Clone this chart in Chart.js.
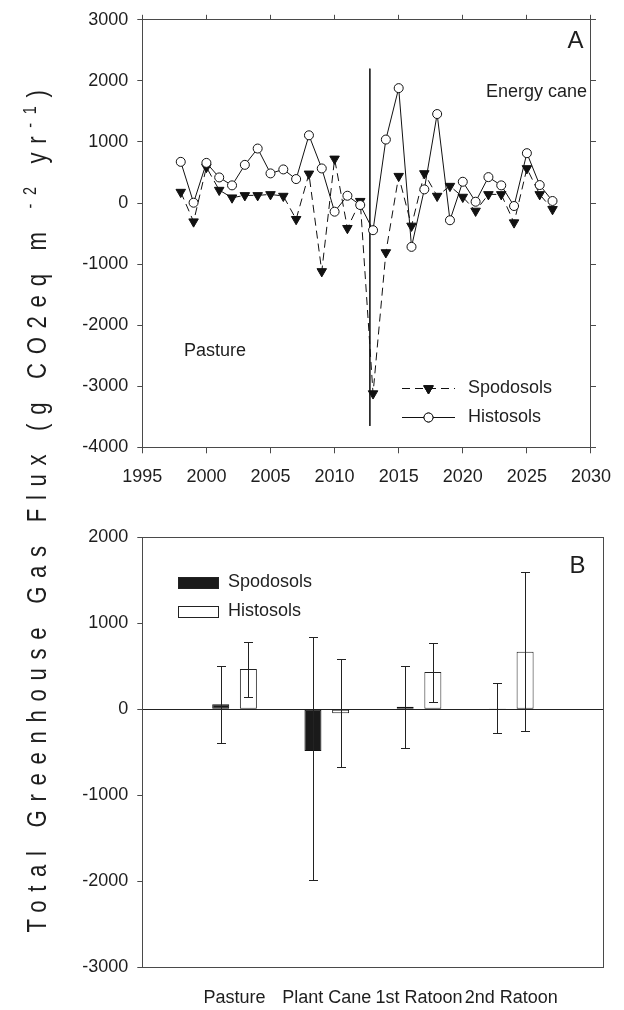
<!DOCTYPE html>
<html><head><meta charset="utf-8">
<script src="https://cdn.jsdelivr.net/npm/chart.js@4/dist/chart.umd.min.js"></script>
<style>
html,body{margin:0;padding:0;background:#fff;width:624px;height:1010px;overflow:hidden}
#wrap{position:relative;width:624px;height:1010px;background:#fff;overflow:hidden}
canvas{position:absolute;left:0}
#cA{top:0}
#cB{top:500px}
#ytitle{position:absolute;left:-563px;top:490px;width:1200px;height:34px;line-height:34px;text-align:center;white-space:nowrap;
  transform:rotate(-90deg) scale(0.82,1);font-family:"Liberation Sans",Arial,sans-serif;
  font-size:27px;letter-spacing:10.6px;color:#1e1e1e}
#ytitle sup{font-size:0.65em;line-height:0;vertical-align:super}
</style></head>
<body><div id="wrap">
<canvas id="cA" width="624" height="500"></canvas>
<canvas id="cB" width="624" height="510"></canvas>
<div id="ytitle">Total Greenhouse Gas Flux (g CO2eq m <sup>-2</sup> yr<sup>-1</sup>)</div>
</div>
<script>
const FONT = '"Liberation Sans",Arial,sans-serif';

// ---- Panel A data ----
const years = [1998,1999,2000,2001,2002,2003,2004,2005,2006,2007,2008,2009,2010,2011,2012,
               2013,2014,2015,2016,2017,2018,2019,2020,2021,2022,2023,2024,2025,2026,2027];
const spodosolsFlux = [179,-305,587,212,87,125,125,141,114,-266,478,-1120,723,-413,30,
                       -3120,-810,440,-375,484,114,277,98,-130,141,141,-321,566,141,-103];
const histosolsFlux = [674,5,657,419,289,625,892,485,550,392,1109,566,-142,119,-33,
                       -445,1039,1881,-718,223,1457,-282,348,21,424,289,-49,816,294,33];
const yearTicks = [1995,2000,2005,2010,2015,2020,2025,2030];
const fluxTicksA = [3000,2000,1000,0,-1000,-2000,-3000,-4000];
const transitionYear = 2012.75;
const transitionSpan = [2200,-3650];

// ---- Panel B data ----
const stages = ['Pasture','Plant Cane','1st Ratoon','2nd Ratoon'];
const spodosolsMean = [58,-485,30,8];
const spodosolsLow  = [-395,-1985,-453,-279];
const spodosolsHigh = [503,837,507,302];
const histosolsMean = [469,-47,434,670];
const histosolsLow  = [147,-674,85,-256];
const histosolsHigh = [786,585,775,1597];
const fluxTicksB = [2000,1000,0,-1000,-2000,-3000];

const AXIS = '#4a4a4a', INK = '#1e1e1e';
Chart.defaults.font.family = FONT;
Chart.defaults.font.size = 18;
Chart.defaults.color = INK;

function setTicks(list){ return s => { s.ticks = list.map(v => ({value:v})); }; }

const annotA = {
  id:'annotA',
  afterDraw(chart){
    const ctx = chart.ctx;
    ctx.save();
    ctx.fillStyle = INK; ctx.textBaseline = 'middle';
    ctx.font = '24px ' + FONT;
    ctx.textAlign = 'center';
    ctx.fillText('A', 575.5, 41);
    ctx.textAlign = 'left';
    ctx.font = '18px ' + FONT;
    ctx.fillText('Energy cane', 486, 92);
    ctx.fillText('Pasture', 184, 351);
    ctx.fillText('Spodosols', 468, 388);
    ctx.fillText('Histosols', 468, 417);
    // legend symbols
    ctx.strokeStyle = '#111'; ctx.lineWidth = 1;
    ctx.setLineDash([8,5]);
    ctx.beginPath(); ctx.moveTo(402,388.5); ctx.lineTo(455,388.5); ctx.stroke();
    ctx.setLineDash([]);
    ctx.beginPath(); ctx.moveTo(402,417.5); ctx.lineTo(455,417.5); ctx.stroke();
    ctx.fillStyle = '#111';
    Chart.helpers.drawPoint(ctx,{pointStyle:'triangle',rotation:180,radius:5.5,borderWidth:1},428.5,388.5);
    ctx.fill(); ctx.stroke();
    ctx.fillStyle = '#fff';
    Chart.helpers.drawPoint(ctx,{pointStyle:'circle',rotation:0,radius:4.5,borderWidth:1},428.5,417.5);
    ctx.fill(); ctx.stroke();
    ctx.restore();
  }
};

new Chart(document.getElementById('cA'), {
  type:'line',
  data:{datasets:[
    {label:'Histosols', data:years.map((y,i)=>({x:y,y:histosolsFlux[i]})),
     borderColor:'#111', borderWidth:1, tension:0, fill:false,
     pointStyle:'circle', pointRadius:4.5, pointBackgroundColor:'#fff', pointBorderColor:'#111', pointBorderWidth:1, order:0},
    {label:'Spodosols', data:years.map((y,i)=>({x:y,y:spodosolsFlux[i]})),
     borderColor:'#111', borderWidth:1, borderDash:[8,5], tension:0, fill:false,
     pointStyle:'triangle', pointRotation:180, pointRadius:5.5, pointBackgroundColor:'#111', pointBorderColor:'#111', pointBorderWidth:1, order:1},
    {label:'transition', data:[{x:transitionYear,y:transitionSpan[0]},{x:transitionYear,y:transitionSpan[1]}],
     borderColor:'#222', borderWidth:1, pointRadius:0, fill:false, order:2}
  ]},
  options:{
    responsive:false, animation:false, devicePixelRatio:1,
    layout:{padding:0},
    plugins:{legend:{display:false}, tooltip:{enabled:false}},
    scales:{
      x:{type:'linear', position:'bottom', min:1995, max:2030, afterBuildTicks:setTicks(yearTicks),
         ticks:{callback:v=>String(v), padding:13, maxRotation:0, autoSkip:false},
         grid:{drawOnChartArea:false, tickLength:6, color:AXIS}, border:{color:AXIS, width:1},
         afterFit:s=>{s.height=52.7;}},
      xTop:{type:'linear', position:'top', min:1995, max:2030, afterBuildTicks:setTicks(yearTicks),
         ticks:{display:false}, grid:{drawOnChartArea:false, tickLength:5, color:AXIS}, border:{color:AXIS, width:1},
         afterFit:s=>{s.height=18.3;}},
      y:{type:'linear', position:'left', min:-4000, max:3000, afterBuildTicks:setTicks(fluxTicksA),
         ticks:{callback:v=>String(v), padding:9},
         grid:{drawOnChartArea:false, tickLength:5, color:AXIS}, border:{color:AXIS, width:1},
         afterFit:s=>{s.width=142.3;}},
      yRight:{type:'linear', position:'right', min:-4000, max:3000, afterBuildTicks:setTicks(fluxTicksA),
         ticks:{display:false}, grid:{drawOnChartArea:false, tickLength:5, color:AXIS}, border:{color:AXIS, width:1},
         afterFit:s=>{s.width=20.5;}}
    }
  },
  plugins:[annotA]
});

const errorBars = {
  id:'errorBars',
  afterDatasetsDraw(chart){
    const ctx = chart.ctx, ys = chart.scales.y;
    const sets = [[spodosolsLow,spodosolsHigh],[histosolsLow,histosolsHigh]];
    ctx.save(); ctx.strokeStyle = '#222'; ctx.lineWidth = 1;
    sets.forEach((pair,di)=>{
      const meta = chart.getDatasetMeta(di);
      pair[0].forEach((lo,i)=>{
        const el = meta.data[i+1];
        const x = Math.round(el.x)+0.5;
        const yl = Math.round(ys.getPixelForValue(lo))+0.5, yh = Math.round(ys.getPixelForValue(pair[1][i]))+0.5;
        ctx.beginPath();
        ctx.moveTo(x,yl); ctx.lineTo(x,yh);
        ctx.moveTo(x-4.5,yl); ctx.lineTo(x+4.5,yl);
        ctx.moveTo(x-4.5,yh); ctx.lineTo(x+4.5,yh);
        ctx.stroke();
      });
    });
    ctx.restore();
  }
};

const annotB = {
  id:'annotB',
  afterDraw(chart){
    const ctx = chart.ctx;
    ctx.save();
    ctx.fillStyle = INK; ctx.textBaseline = 'middle';
    ctx.font = '24px ' + FONT; ctx.textAlign = 'center';
    ctx.fillText('B', 577.5, 66);
    ctx.font = '18px ' + FONT; ctx.textAlign = 'left';
    ctx.fillText('Spodosols', 228, 82);
    ctx.fillText('Histosols', 228, 111);
    ctx.lineWidth = 1; ctx.strokeStyle = '#222';
    ctx.fillStyle = '#1a1a1a'; ctx.fillRect(178,77.5,41,11); ctx.strokeRect(178.5,77.5,40,11);
    ctx.fillStyle = '#fff'; ctx.fillRect(178,106.5,41,11); ctx.strokeRect(178.5,106.5,40,11);
    ctx.restore();
  }
};

new Chart(document.getElementById('cB'), {
  type:'bar',
  data:{labels:['',...stages,''], datasets:[
    {label:'Spodosols', data:[null,...spodosolsMean,null], backgroundColor:'#1a1a1a', borderColor:'#111', borderWidth:1,
     borderSkipped:false, categoryPercentage:0.6, barPercentage:0.614},
    {label:'Histosols', data:[null,...histosolsMean,null], backgroundColor:'#fff', borderColor:'#222', borderWidth:1,
     borderSkipped:false, categoryPercentage:0.6, barPercentage:0.614}
  ]},
  options:{
    responsive:false, animation:false, devicePixelRatio:1,
    layout:{padding:0},
    plugins:{legend:{display:false}, tooltip:{enabled:false}},
    scales:{
      x:{type:'category', position:'bottom', offset:false,
         ticks:{padding:20, maxRotation:0, autoSkip:false},
         grid:{display:true, drawOnChartArea:false, drawTicks:false, color:AXIS}, border:{color:AXIS, width:1},
         afterFit:s=>{s.height=43;}},
      xTop:{type:'category', position:'top', offset:false, labels:['',...stages,''],
         ticks:{display:false}, grid:{display:true, drawOnChartArea:false, drawTicks:false, color:AXIS}, border:{color:AXIS, width:1},
         afterFit:s=>{s.height=37.5;}},
      y:{type:'linear', position:'left', min:-3000, max:2000, afterBuildTicks:setTicks(fluxTicksB),
         ticks:{callback:v=>String(v), padding:9},
         grid:{drawOnChartArea:true, tickLength:5, color:c=>(c.tick && c.tick.value===0)?'#222':'rgba(0,0,0,0)', tickColor:AXIS},
         border:{color:AXIS, width:1},
         afterFit:s=>{s.width=142.3;}},
      yRight:{type:'linear', position:'right', min:-3000, max:2000,
         ticks:{display:false}, grid:{display:true, drawOnChartArea:false, drawTicks:false, color:AXIS}, border:{color:AXIS, width:1},
         afterFit:s=>{s.width=20.5;}}
    }
  },
  plugins:[errorBars, annotB]
});
</script>
</body></html>
